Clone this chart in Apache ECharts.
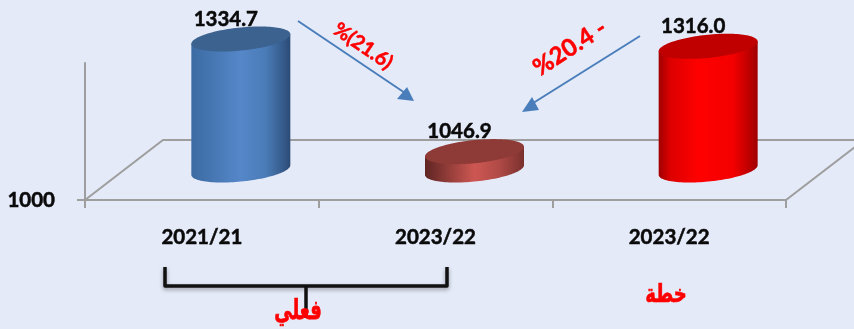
<!DOCTYPE html>
<html>
<head>
<meta charset="utf-8">
<style>html,body{margin:0;padding:0;background:#E4EAF8}#chart{width:854px;height:329px}</style>
<script src="https://cdn.jsdelivr.net/npm/echarts@6/dist/echarts.min.js"></script>
</head>
<body>
<div id="chart"></div>
<script>
const categories = ['2021/21', '2023/22', '2023/22'];
const values = [1334.7, 1046.9, 1316.0];
const valueLabels = ['1334.7', '1046.9', '1316.0'];
const sideColors = [
  [[0, '#3C6BA2'], [0.5, '#5587C9'], [0.75, '#4A7CB8'], [0.93, '#355A8A'], [1, '#2B4A75']],
  [[0, '#5E2523'], [0.5, '#CD5752'], [0.75, '#B04A46'], [1, '#7A302D']],
  [[0, '#A00000'], [0.12, '#DD0000'], [0.4, '#FF0000'], [0.75, '#F40000'], [1, '#A00000']]
];
const topColors = ['#3C628F', '#8E3A37', '#C00000'];

const FONT = 'Lato, "Noto Sans", sans-serif';
const ARABIC = '"DejaVu Sans", sans-serif';
const INK = '#0A0A0A';
const AXIS = '#9E9E9E';
const DEPTH_X = 78, DEPTH_Y = 60;   // oblique offset from front to back of the floor
const RX = 49.5, RY = 11.6, SKEW = 4.8; // cylinder ellipse radii and tilt

// Outline point of a tilted ellipse at angle t
function rim(cx, cy, t) {
  const c = Math.cos(t), s = Math.sin(t);
  return [cx + RX * c, cy + RY * s - SKEW * c];
}

function renderFloor(params, api) {
  const band = api.size([1, 0])[0];
  const left = api.coord([0, 1000]);
  const right = api.coord([2, 1000]);
  const x0 = left[0] - band / 2, x1 = right[0] + band / 2, y = left[1];
  return {
    type: 'polyline',
    shape: { points: [[x0, y], [x0 + DEPTH_X, y - DEPTH_Y], [x1 + DEPTH_X, y - DEPTH_Y], [x1, y]] },
    style: { stroke: AXIS, lineWidth: 2, fill: 'none' },
    silent: true
  };
}

function renderCylinder(params, api) {
  const i = params.dataIndex;
  const base = api.coord([i, 1000]);
  const top = api.coord([i, api.value(1)]);
  const cx = base[0] + DEPTH_X / 2;
  const by = base[1] - DEPTH_Y / 2;
  const ty = top[1] - DEPTH_Y / 2;

  const body = [];
  for (let k = 0; k <= 60; k++) body.push(rim(cx, by, Math.PI - Math.PI * k / 60));
  body.push(rim(cx, ty, 0), rim(cx, ty, Math.PI));

  const cap = [];
  for (let k = 0; k < 120; k++) cap.push(rim(cx, ty, 2 * Math.PI * k / 120));

  return {
    type: 'group',
    children: [
      {
        type: 'polygon',
        shape: { points: body },
        style: { fill: new echarts.graphic.LinearGradient(0, 0, 1, 0, sideColors[i].map(s => ({ offset: s[0], color: s[1] }))) }
      },
      { type: 'polygon', shape: { points: cap }, style: { fill: topColors[i] } },
      {
        type: 'text',
        style: {
          x: cx - 15, y: ty - 20, text: valueLabels[i],
          fill: INK, stroke: INK, lineWidth: 0.5,
          font: 'bold 20.5px ' + FONT, align: 'center', verticalAlign: 'middle'
        }
      }
    ]
  };
}

function arrow(from, to, head) {
  return [
    { type: 'line', shape: { x1: from[0], y1: from[1], x2: to[0], y2: to[1] }, style: { stroke: '#4A7EBB', lineWidth: 2 } },
    { type: 'polygon', shape: { points: head }, style: { fill: '#4A7EBB' } }
  ];
}

function note(text, x, y, rotationDeg, font, scaleY) {
  return {
    type: 'text', x, y, rotation: rotationDeg * Math.PI / 180, scaleY: scaleY || 1,
    style: { text, fill: '#FF0000', stroke: '#FF0000', lineWidth: 0.5, font, align: 'center', verticalAlign: 'middle' }
  };
}

const bracketStyle = {
  stroke: '#111111', lineWidth: 3.5, fill: 'none', lineJoin: 'round',
  shadowColor: 'rgba(0,0,0,0.35)', shadowBlur: 4, shadowOffsetY: 2
};

const chart = echarts.init(document.getElementById('chart'), null, { renderer: 'canvas' });
chart.setOption({
  animation: false,
  backgroundColor: '#E4EAF8',
  grid: { left: 85, right: 68, top: 63, bottom: 129 },
  xAxis: {
    type: 'category',
    data: categories,
    axisLine: { lineStyle: { color: AXIS, width: 2 } },
    axisTick: { show: true, length: 8, lineStyle: { color: AXIS, width: 2 } },
    axisLabel: {
      color: INK, fontFamily: FONT, fontWeight: 'bold', fontSize: 20.5, margin: 27,
      textBorderColor: INK, textBorderWidth: 0.5
    }
  },
  yAxis: {
    type: 'value',
    min: 1000,
    max: 1350,
    interval: 350,
    splitLine: { show: false },
    axisLine: { show: true, lineStyle: { color: AXIS, width: 2 } },
    axisTick: { show: true, length: 8, customValues: [1000], lineStyle: { color: AXIS, width: 2 } },
    axisLabel: {
      color: INK, fontFamily: FONT, fontWeight: 'bold', fontSize: 20.5, margin: 30,
      textBorderColor: INK, textBorderWidth: 0.5,
      customValues: [1000],
      formatter: v => String(v)
    }
  },
  series: [
    { type: 'custom', z: 1, silent: true, clip: false, renderItem: renderFloor, data: [[0, 1000]], encode: { x: 0, y: 1 } },
    {
      type: 'custom', z: 3, silent: true, clip: false, renderItem: renderCylinder,
      data: values.map((v, i) => [i, v]), encode: { x: 0, y: 1 }
    }
  ],
  graphic: [
    ...arrow([298, 21], [408, 95], [[397, 99], [407, 87], [414, 101]]),
    ...arrow([640, 36], [530, 105], [[532, 97], [539, 110], [522, 112]]),
    note('%(21.6)', 363, 46, -34, 'bold 20px ' + FONT),
    note('%20.4 -', 570, 48, 33, 'bold 24px ' + FONT),
    {
      type: 'polyline',
      shape: { points: [[165, 267], [165, 286], [447, 286], [447, 267]] },
      style: bracketStyle
    },
    { type: 'line', shape: { x1: 306, y1: 286, x2: 306, y2: 318 }, style: { stroke: '#111111', lineWidth: 3.5 } },
    note('فعلي', 298, 312, 0, 'bold 18px ' + ARABIC, 1.5),
    note('خطة', 666, 295, 0, 'bold 18px ' + ARABIC, 1.4)
  ]
});
</script>
</body>
</html>
